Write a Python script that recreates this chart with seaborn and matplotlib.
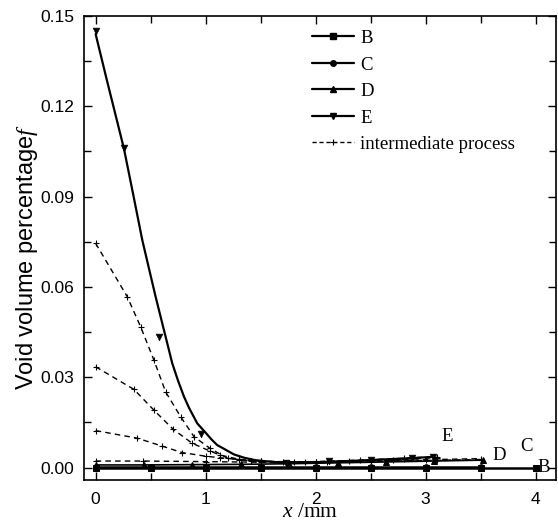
import matplotlib
matplotlib.use("Agg")
import matplotlib.pyplot as plt
from matplotlib.lines import Line2D
from matplotlib.ticker import MultipleLocator, FormatStrFormatter
import seaborn as sns

# === data ===
B_x = [0, 0.5, 1.0, 1.5, 2.0, 2.5, 3.0, 3.5, 4.0]
B_y = [0.0, 0.0, 0.0, 0.0, 0.0, 0.0, 0.0, 0.0, 0.0]

C_x = [0, 0.5, 1.0, 1.5, 2.0, 2.5, 3.0, 3.5]
C_y = [0.0001, 0.0001, 0.0001, 0.0001, 0.0001, 0.0001, 0.0001, 0.0001]

D_x = [0, 0.44, 0.88, 1.32, 1.76, 2.2, 2.64, 3.08, 3.52]
D_y = [0.0009, 0.0009, 0.0010, 0.0011, 0.0013, 0.0016, 0.0019, 0.0022, 0.0025]

# E: fitted solid curve and measured points
E_x = [0, 0.1, 0.257, 0.34, 0.424, 0.545, 0.621, 0.697, 0.75, 0.803, 0.85,
       0.924, 1.0, 1.05, 1.105, 1.15, 1.257, 1.35, 1.45, 1.55, 1.65, 1.8,
       2.0, 2.3, 2.6, 2.9, 3.07]
E_y = [0.144, 0.129, 0.106, 0.091, 0.0756, 0.0568, 0.0457, 0.0346, 0.0288,
       0.0236, 0.0198, 0.0147, 0.0116, 0.0095, 0.0075, 0.0066, 0.0044,
       0.0033, 0.0025, 0.0021, 0.0018, 0.0017, 0.0018, 0.0022, 0.0027,
       0.0032, 0.0036]
E_pts_x = [0, 0.257, 0.575, 0.96, 1.73, 2.12, 2.5, 2.88, 3.07]
E_pts_y = [0.145, 0.106, 0.0435, 0.0112, 0.0017, 0.0021, 0.0026, 0.0031, 0.0037]

# intermediate process (dashed)
I1_x = [0, 0.287, 0.409, 0.53, 0.636, 0.773, 0.894, 1.04, 1.2, 1.41, 1.7,
        2.0, 2.4, 2.8, 3.1]
I1_y = [0.0745, 0.0568, 0.0468, 0.0357, 0.0252, 0.0169, 0.0103, 0.0064,
        0.0031, 0.0022, 0.0019, 0.0020, 0.0025, 0.0031, 0.0037]
I2_x = [0, 0.348, 0.53, 0.706, 0.878, 1.04, 1.13, 1.3, 1.5, 1.8, 2.1, 2.5,
        2.8, 3.1]
I2_y = [0.0335, 0.026, 0.0191, 0.0127, 0.0081, 0.0055, 0.0042, 0.0028,
        0.0021, 0.0019, 0.0020, 0.0024, 0.0028, 0.0033]
I3_x = [0, 0.378, 0.6, 0.787, 1.0, 1.13, 1.3, 1.5, 1.9, 2.3, 2.7, 3.1, 3.5]
I3_y = [0.0123, 0.0098, 0.0072, 0.005, 0.0038, 0.0033, 0.0027, 0.0021,
        0.0019, 0.0021, 0.0024, 0.0027, 0.003]
I4_x = [0, 0.43, 1.0, 1.5, 2.0, 2.5, 3.0, 3.5]
I4_y = [0.0022, 0.0022, 0.0020, 0.0018, 0.0018, 0.0021, 0.0024, 0.0027]

LABELS = ["B", "C", "D", "E", "intermediate process"]
# curve end labels
END_TEXT = ["E", "D", "C", "B"]
END_X = [3.2, 3.67, 3.92, 4.07]
END_Y = [0.0102, 0.0042, 0.007, 0.0]

sns.set_style("ticks")
plt.rcParams["font.family"] = ["Liberation Sans", "DejaVu Sans"]
plt.rcParams["mathtext.fontset"] = "custom"
plt.rcParams["mathtext.it"] = "Liberation Serif:italic"
plt.rcParams["mathtext.rm"] = "Liberation Serif"
plt.rcParams["text.color"] = "black"
plt.rcParams["axes.labelcolor"] = "black"
plt.rcParams["axes.edgecolor"] = "black"
plt.rcParams["xtick.color"] = "black"
plt.rcParams["ytick.color"] = "black"

fig = plt.figure(figsize=(5.58, 5.21), dpi=100)
ax = fig.add_axes([0.1505, 0.0787, 0.8468, 0.8906])

line_kw = dict(color="black", estimator=None, sort=False, legend=False, ax=ax)

for xs, ys in [(I1_x, I1_y), (I2_x, I2_y), (I3_x, I3_y), (I4_x, I4_y)]:
    sns.lineplot(x=xs, y=ys, lw=1.0, ls=(0, (4, 3)), marker="+", ms=4.5,
                 mew=0.8, mec="black", **line_kw)

sns.lineplot(x=B_x, y=B_y, lw=1.8, marker="s", ms=4, mec="black", **line_kw)
sns.lineplot(x=C_x, y=C_y, lw=1.8, marker="o", ms=4, mec="black", **line_kw)
sns.lineplot(x=D_x, y=D_y, lw=1.2, marker="^", ms=4.5, mec="black", **line_kw)
sns.lineplot(x=E_x, y=E_y, lw=1.6, **line_kw)
sns.scatterplot(x=E_pts_x, y=E_pts_y, marker="v", s=24, color="black",
                edgecolor="black", legend=False, ax=ax, zorder=3)

for t, tx, ty in zip(END_TEXT, END_X, END_Y):
    ax.text(tx, ty, t, fontsize=13.5, family="Liberation Serif",
            ha="center", va="center")

ax.set_xlim(-0.106, 4.19)
ax.set_ylim(-0.0041, 0.15)
ax.xaxis.set_major_locator(MultipleLocator(1))
ax.xaxis.set_minor_locator(MultipleLocator(0.5))
ax.yaxis.set_major_locator(MultipleLocator(0.03))
ax.yaxis.set_minor_locator(MultipleLocator(0.015))
ax.yaxis.set_major_formatter(FormatStrFormatter("%.2f"))
ax.tick_params(which="both", direction="in", top=True, right=True,
               labelsize=12.5, width=1.0)
ax.tick_params(which="major", length=6)
ax.tick_params(which="minor", length=5)
ax.tick_params(axis="x", which="major", pad=9)
ax.tick_params(axis="y", which="major", pad=7)
for sp in ax.spines.values():
    sp.set_linewidth(1.2)
    sp.set_visible(True)

ax.set_ylabel(r"Void volume percentage$\mathit{f}$", fontsize=17)
ax.yaxis.set_label_coords(-0.094, 0.48)
ax.set_xlabel(r"$\mathit{x}$ /mm", fontsize=15.5, family="Liberation Serif")
ax.xaxis.set_label_coords(0.478, -0.05)

handles = [
    Line2D([], [], color="black", lw=1.6, marker="s", ms=4),
    Line2D([], [], color="black", lw=1.6, marker="o", ms=4),
    Line2D([], [], color="black", lw=1.6, marker="^", ms=4.5),
    Line2D([], [], color="black", lw=1.6, marker="v", ms=4.5),
    Line2D([], [], color="black", lw=1.0, ls=(0, (3, 2)), marker="+", ms=4,
           mew=0.8),
]
ax.legend(handles=handles, labels=LABELS, loc="upper left",
          bbox_to_anchor=(0.482, 0.97), frameon=False, numpoints=1,
          handlelength=2.25, handletextpad=0.35, labelspacing=0.5,
          borderpad=0, borderaxespad=0,
          prop={"family": "Liberation Serif", "size": 13.5})

fig.savefig("out.png", dpi=100)
plt.close(fig)
